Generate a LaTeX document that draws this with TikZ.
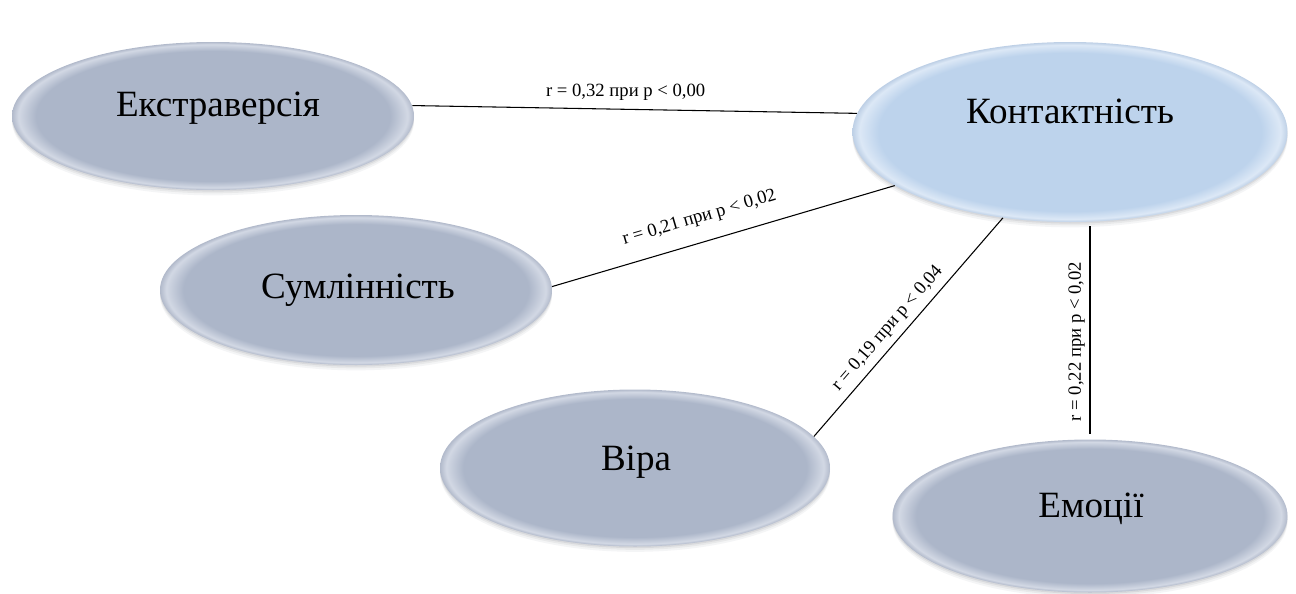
\documentclass[tikz,border=0pt]{standalone}
\usepackage{fontspec}
\setmainfont{Liberation Serif}
\newfontfamily\tnr{Liberation Serif}
\usetikzlibrary{shapes.geometric}
\definecolor{gfill}{RGB}{172,182,201}
\definecolor{grim}{RGB}{210,216,228}
\definecolor{gedge}{RGB}{178,186,203}
\definecolor{bfill}{RGB}{189,211,236}
\definecolor{brim}{RGB}{220,232,246}
\definecolor{bedge}{RGB}{190,208,230}
\definecolor{shad}{RGB}{120,125,135}
\pgfdeclareradialshading{bevelgray}{\pgfpoint{0bp}{0bp}}{color(0bp)=(gfill); color(22bp)=(gfill); color(24.2bp)=(grim); color(25bp)=(gedge); color(50bp)=(gedge)}
\pgfdeclareradialshading{bevelblue}{\pgfpoint{0bp}{0bp}}{color(0bp)=(bfill); color(22bp)=(bfill); color(24.2bp)=(brim); color(25bp)=(bedge); color(50bp)=(bedge)}
\tikzset{
  oval/.style={ellipse, inner sep=0pt, shading=bevelgray,
    preaction={fill=shad, fill opacity=0.08, transform canvas={yshift=-4pt}},
    preaction={fill=shad, fill opacity=0.10, transform canvas={yshift=-2.5pt}},
    preaction={fill=shad, fill opacity=0.14, transform canvas={yshift=-1.2pt}}},
  ovalblue/.style={oval, shading=bevelblue},
  bigtext/.style={font=\tnr\fontsize{27.8}{31}\selectfont, inner sep=0pt},
  rlabel/.style={font=\tnr\fontsize{14}{16}\selectfont, inner sep=1.5pt},
  link/.style={draw=black, line width=0.8pt}
}
\begin{document}
\begin{tikzpicture}[x=0.75pt,y=-0.75pt]
\useasboundingbox (0,0) rectangle (1296,593);
% ellipses
\node[oval, minimum width=301.5pt, minimum height=111pt] (ext) at (213,116) {};
\node[ovalblue, minimum width=326.25pt, minimum height=135pt] (kont) at (1070,132) {};
\node[oval, minimum width=294pt, minimum height=112.5pt] (sum) at (356,290) {};
\node[oval, minimum width=292.5pt, minimum height=117.75pt] (vira) at (635,468) {};
\node[oval, minimum width=296.25pt, minimum height=114.75pt] (emo) at (1090,516) {};
% texts
\node[bigtext] (extT) at (218,108) {Екстраверсія};
\node[bigtext] (kontT) at (1070,111) {Контактність};
\node[bigtext] (sumT) at (358,290) {Сумлінність};
\node[bigtext] (viraT) at (636,462) {Віра};
\node[bigtext] (emoT) at (1091,509) {Емоції};
% links
\draw[link] (ext.3) -- node[rlabel, above=5pt, pos=0.48] (l1) {r = 0,32 при p < 0,00} (kont.175);
\draw[link] (sum.1) -- node[rlabel, sloped, above=10pt, pos=0.45] (l2) {r = 0,21 при p < 0,02} (kont.197);
\draw[link] (vira.10) -- node[rlabel, sloped, above=3pt, pos=0.45] (l3) {r = 0,19 при p < 0,04} (kont.232);
\coordinate (kbot) at (emo.north |- kont.south);
\draw[link, shorten <=4pt, shorten >=3pt] (emo.north) -- node[rlabel, sloped, above=2pt, pos=0.45] (l4) {r = 0,22 при p < 0,02} (kbot);
\end{tikzpicture}
\end{document}
